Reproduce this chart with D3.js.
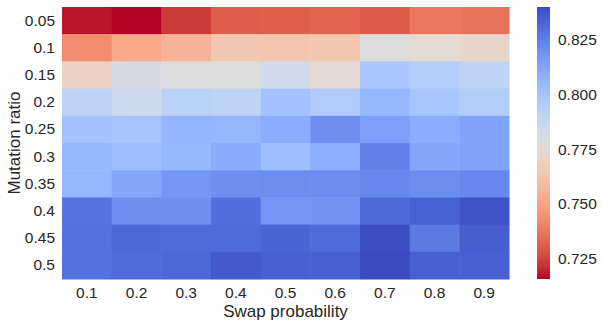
<!DOCTYPE html>
<html>
<head>
<meta charset="utf-8">
<script src="https://cdn.jsdelivr.net/npm/d3@7"></script>
<style>
  body { margin: 0; background: #fff; }
  text { font-family: "Liberation Sans", Arial, sans-serif; fill: #262626; }
</style>
</head>
<body>
<div id="chart"></div>
<script>
    const swapProb = ['0.1','0.2','0.3','0.4','0.5','0.6','0.7','0.8','0.9'];
    const mutationRatio = ['0.05','0.1','0.15','0.2','0.25','0.3','0.35','0.4','0.45','0.5'];

    // one row per mutation ratio, one value per swap probability
    const row005 = [0.7178, 0.7159, 0.7233, 0.7310, 0.7315, 0.7325, 0.7305, 0.7370, 0.7360];
    const row010 = [0.7431, 0.7518, 0.7555, 0.7642, 0.7635, 0.7640, 0.7778, 0.7745, 0.7720];
    const row015 = [0.7697, 0.7815, 0.7778, 0.7780, 0.7840, 0.7740, 0.7988, 0.7950, 0.7907];
    const row020 = [0.7910, 0.7852, 0.7926, 0.7910, 0.8010, 0.7957, 0.8055, 0.7994, 0.7950];
    const row025 = [0.8010, 0.8002, 0.8060, 0.8055, 0.8096, 0.8201, 0.8145, 0.8096, 0.8133];
    const row030 = [0.8055, 0.8025, 0.8055, 0.8100, 0.8025, 0.8087, 0.8240, 0.8120, 0.8133];
    const row035 = [0.8055, 0.8117, 0.8176, 0.8200, 0.8205, 0.8210, 0.8226, 0.8205, 0.8226];
    const row040 = [0.8285, 0.8205, 0.8200, 0.8297, 0.8176, 0.8190, 0.8316, 0.8334, 0.8377];
    const row045 = [0.8290, 0.8322, 0.8310, 0.8310, 0.8328, 0.8310, 0.8390, 0.8266, 0.8346];
    const row050 = [0.8290, 0.8310, 0.8322, 0.8359, 0.8340, 0.8340, 0.8396, 0.8340, 0.8340];
    const rows = [row005, row010, row015, row020, row025, row030, row035, row040, row045, row050];

    const cbTicks = [0.725, 0.750, 0.775, 0.800, 0.825];

    // coolwarm control colours (blue -> grey -> red)
    const coolwarm = ['#3b4cc0','#445acc','#4d68d7','#5775e1','#6282ea','#6c8ef1','#779af7','#82a5fb',
      '#8db0fe','#98b9ff','#a3c2ff','#aec9fd','#b8d0f9','#c2d5f4','#ccd9ee','#d5dbe6','#dddddd',
      '#e5d8d1','#ecd3c5','#f1ccb8','#f5c4ac','#f7bb9f','#f7b193','#f7a686','#f49a7b','#f18d6f',
      '#ec7f63','#e57059','#de604d','#d55042','#cb3e38','#c0282f','#b40426'];

    const W = 602, H = 326;
    const margin = { left: 62, right: 93, top: 7, bottom: 47 };

    const svg = d3.select('#chart').append('svg')
      .attr('width', W).attr('height', H);

    const all = rows.flat();
    const ext = d3.extent(all);

    const coolwarmFn = d3.interpolateRgbBasis(coolwarm);
    // reversed: low = red, high = blue
    const color = d3.scaleSequential(t => coolwarmFn(1 - t)).domain(ext);

    const x = d3.scaleBand().domain(swapProb).range([margin.left, W - margin.right]);
    const y = d3.scaleBand().domain(mutationRatio).range([margin.top, H - margin.bottom]);

    const cells = [];
    rows.forEach((r, i) => r.forEach((v, j) => cells.push({ m: mutationRatio[i], s: swapProb[j], v: v })));

    svg.append('g').selectAll('rect')
      .data(cells).join('rect')
      .attr('x', d => x(d.s))
      .attr('y', d => y(d.m))
      .attr('width', x.bandwidth() + 0.5)
      .attr('height', y.bandwidth() + 0.5)
      .attr('fill', d => color(d.v));

    const xAxis = svg.append('g')
      .attr('transform', `translate(0,${H - margin.bottom})`)
      .call(d3.axisBottom(x).tickSize(0).tickPadding(8));
    xAxis.select('.domain').remove();
    xAxis.selectAll('text').style('font-size', '15.5px').attr('fill', '#262626');

    const yAxis = svg.append('g')
      .attr('transform', `translate(${margin.left},0)`)
      .call(d3.axisLeft(y).tickSize(0).tickPadding(7));
    yAxis.select('.domain').remove();
    yAxis.selectAll('text').style('font-size', '15.5px').attr('fill', '#262626');

    svg.append('text')
      .attr('x', (margin.left + W - margin.right) / 2)
      .attr('y', 317)
      .attr('text-anchor', 'middle')
      .style('font-size', '17px')
      .text('Swap probability');

    svg.append('text')
      .attr('transform', `translate(20,${(margin.top + H - margin.bottom) / 2}) rotate(-90)`)
      .attr('text-anchor', 'middle')
      .style('font-size', '17px')
      .text('Mutation ratio');

    // colorbar
    const cbX = 537, cbW = 13;
    const cbY = d3.scaleLinear().domain(ext).range([H - margin.bottom, margin.top]);

    const defs = svg.append('defs');
    const grad = defs.append('linearGradient')
      .attr('id', 'cbgrad')
      .attr('x1', 0).attr('y1', 1).attr('x2', 0).attr('y2', 0);
    d3.range(0, 1.0001, 0.05).forEach(t => {
      grad.append('stop')
        .attr('offset', t)
        .attr('stop-color', color(ext[0] + t * (ext[1] - ext[0])));
    });

    svg.append('rect')
      .attr('x', cbX).attr('y', margin.top)
      .attr('width', cbW).attr('height', H - margin.bottom - margin.top)
      .attr('fill', 'url(#cbgrad)');

    const cbAxis = svg.append('g')
      .attr('transform', `translate(${cbX + cbW},0)`)
      .call(d3.axisRight(cbY).tickValues(cbTicks).tickFormat(d3.format('.3f')).tickSize(0).tickPadding(8));
    cbAxis.select('.domain').remove();
    cbAxis.selectAll('text').style('font-size', '15.5px').attr('fill', '#262626');
</script>
</body>
</html>
